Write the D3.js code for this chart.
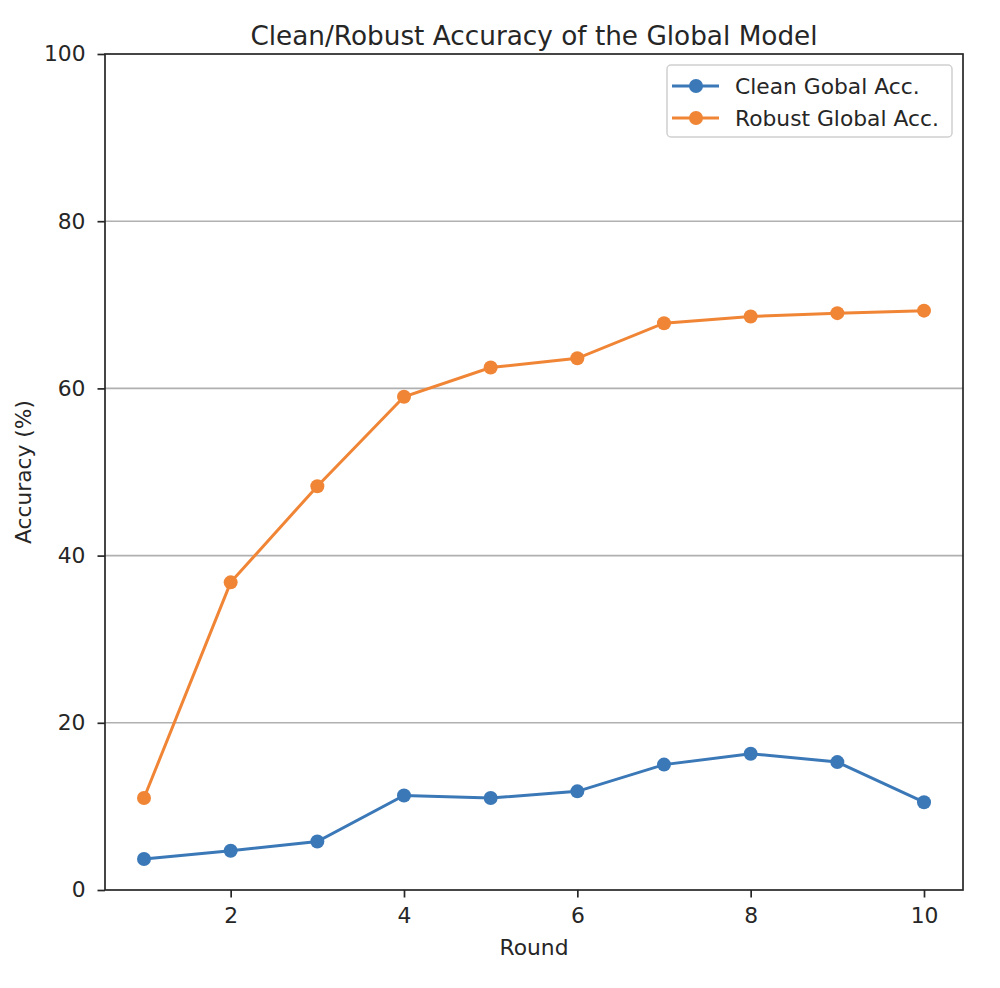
<!DOCTYPE html>
<html><head><meta charset="utf-8">
<script src="https://cdn.jsdelivr.net/npm/d3@7"></script>
<style>
body{margin:0;background:#fff;}
text{font-family:"DejaVu Sans",sans-serif;fill:#262626;}
</style></head>
<body><svg id="c" width="1000" height="988"></svg>
<script>
const rounds = [1,2,3,4,5,6,7,8,9,10];
const cleanAcc = [3.7,4.7,5.8,11.3,11.0,11.8,15.0,16.3,15.3,10.5];
const robustAcc = [11.0,36.8,48.3,59.0,62.5,63.6,67.8,68.6,69.0,69.3];
const xTicks = [2,4,6,8,10];
const yTicks = [0,20,40,60,80,100];
const seriesNames = ["Clean Gobal Acc.","Robust Global Acc."];
const seriesColors = ["#3b78b7","#f08536"];

const svg = d3.select("#c");
const L=105, R=963, T=54, B=890;
const x = d3.scaleLinear().domain([0.55,10.45]).range([L,R]);
const y = d3.scaleLinear().domain([0,100]).range([B,T]);
const FS = 21.8;

// grid
svg.append("g").selectAll("line").data(yTicks.filter(d=>d>0&&d<100)).join("line")
  .attr("x1",L).attr("x2",R).attr("y1",d=>y(d)).attr("y2",d=>y(d))
  .attr("stroke","#b0b0b0").attr("stroke-width",1.6);

// axes
const xa = svg.append("g").attr("transform",`translate(0,${B})`)
  .call(d3.axisBottom(x).tickValues(xTicks).tickSize(7.5).tickPadding(8).tickFormat(d3.format("d")));
const ya = svg.append("g").attr("transform",`translate(${L},0)`)
  .call(d3.axisLeft(y).tickValues(yTicks).tickSize(7.5).tickPadding(12).tickFormat(d3.format("d")));
[xa,ya].forEach(a=>{
  a.select(".domain").remove();
  a.selectAll(".tick line").attr("stroke","#262626").attr("stroke-width",1.7);
  a.selectAll(".tick text").attr("font-size",FS).attr("font-family","DejaVu Sans").attr("fill","#262626");
});
xa.selectAll(".tick text").attr("dy","0.8em");

// spines
svg.append("rect").attr("x",L).attr("y",T).attr("width",R-L).attr("height",B-T)
  .attr("fill","none").attr("stroke","#262626").attr("stroke-width",1.7);

// series
const allSeries=[cleanAcc,robustAcc];
const line = d3.line().x((d,i)=>x(rounds[i])).y(d=>y(d));
allSeries.forEach((s,k)=>{
  svg.append("path").datum(s).attr("d",line).attr("fill","none")
    .attr("stroke",seriesColors[k]).attr("stroke-width",3);
  svg.append("g").selectAll("circle").data(s).join("circle")
    .attr("cx",(d,i)=>x(rounds[i])).attr("cy",d=>y(d)).attr("r",7)
    .attr("fill",seriesColors[k]);
});

// title & labels
svg.append("text").attr("x",(L+R)/2).attr("y",45).attr("text-anchor","middle")
  .attr("font-size",26.3).text("Clean/Robust Accuracy of the Global Model");
svg.append("text").attr("x",(L+R)/2).attr("y",955).attr("text-anchor","middle")
  .attr("font-size",FS).text("Round");
svg.append("text").attr("transform",`translate(31,${(T+B)/2}) rotate(-90)`).attr("text-anchor","middle")
  .attr("font-size",FS).text("Accuracy (%)");

// legend
const lg = svg.append("g");
lg.append("rect").attr("x",667).attr("y",65).attr("width",285).attr("height",72).attr("rx",4)
  .attr("fill","#fff").attr("fill-opacity",0.8).attr("stroke","#d0d0d0").attr("stroke-width",1.5);
seriesNames.forEach((n,k)=>{
  const cy = 86 + k*32;
  lg.append("line").attr("x1",672).attr("x2",719).attr("y1",cy).attr("y2",cy)
    .attr("stroke",seriesColors[k]).attr("stroke-width",3);
  lg.append("circle").attr("cx",696).attr("cy",cy).attr("r",7).attr("fill",seriesColors[k]);
  lg.append("text").attr("x",735).attr("y",cy).attr("dy","0.36em").attr("font-size",FS).text(n);
});
</script></body></html>
